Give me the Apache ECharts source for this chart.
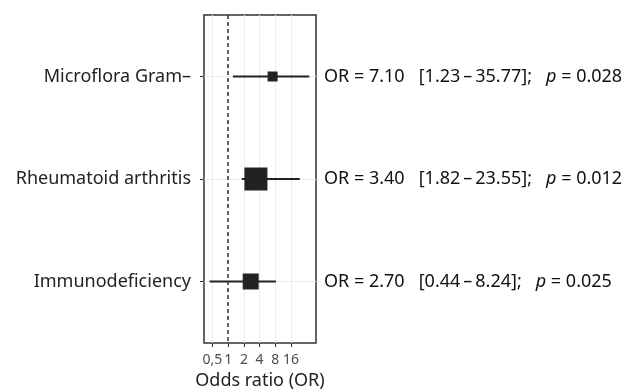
<!DOCTYPE html>
<html>
<head>
<meta charset="utf-8">
<script src="https://cdn.jsdelivr.net/npm/echarts@6/dist/echarts.min.js"></script>
<style>html,body{margin:0;padding:0;background:#fff;}#c{width:625px;height:390px;}</style>
</head>
<body>
<div id="c"></div>
<script>
const categories = ['Microflora Gram–', 'Rheumatoid arthritis', 'Immunodeficiency'];
const oddsRatio = [7.10, 3.40, 2.70];
const ciLow = [1.23, 1.82, 0.44];
const ciHigh = [35.77, 23.55, 8.24];
const pValue = ['0.028', '0.012', '0.025'];
const weight = [10, 23, 16];
const xTicks = [0.5, 1, 2, 4, 8, 16];
const xTickLabels = ['0,5', '1', '2', '4', '8', '16'];

const FONT = 'Noto Sans';
const chart = echarts.init(document.getElementById('c'), null, {renderer: 'canvas'});
const rows = categories.map((c, i) => [i + 1, oddsRatio[i], ciLow[i], ciHigh[i], weight[i]]);
const gridX = xTicks.filter(v => v !== 1);
const TS = '\u2009';

chart.setOption({
  animation: false,
  grid: {left: 204, right: 309, top: 15, bottom: 47, show: true, borderColor: '#333', borderWidth: 1.5,
    backgroundColor: 'transparent', containLabel: false, outerBoundsMode: 'none'},
  xAxis: {
    type: 'log', logBase: 2, min: 0.344, max: 48.2,
    axisLine: {show: false},
    splitLine: {show: false},
    axisTick: {show: true, length: 4, lineStyle: {color: '#333', width: 1}, customValues: xTicks},
    axisLabel: {customValues: xTicks, margin: 10, color: '#4d4d4d', fontSize: 14, fontFamily: FONT,
      formatter: v => { const i = xTicks.findIndex(t => Math.abs(t - v) < 1e-6); return i >= 0 ? xTickLabels[i] : ''; }},
    name: 'Odds ratio (OR)', nameLocation: 'middle', nameGap: 29,
    nameTextStyle: {color: '#222', fontSize: 18, fontFamily: FONT}
  },
  yAxis: [{
    type: 'value', min: 0.4, max: 3.6, inverse: true,
    axisLine: {show: false},
    splitLine: {show: false},
    axisTick: {show: true, length: 4, lineStyle: {color: '#333'}, customValues: [1, 2, 3]},
    axisLabel: {customValues: [1, 2, 3], margin: 13, color: '#222', fontSize: 18, fontFamily: FONT,
      formatter: v => categories[Math.round(v) - 1] || ''}
  }, {
    type: 'value', min: 0.4, max: 3.6, inverse: true, position: 'right',
    axisLine: {show: false}, splitLine: {show: false}, axisTick: {show: false},
    axisLabel: {customValues: [1, 2, 3], margin: 8, fontSize: 18, fontFamily: FONT, color: '#111',
      formatter: v => { const i = Math.round(v) - 1; if (i < 0 || i > 2) return '';
        return '{a|OR = ' + oddsRatio[i].toFixed(2) + '   [' + ciLow[i].toFixed(2) + TS + '–' + TS + ciHigh[i].toFixed(2) + '];   }{i|p}{a| = ' + pValue[i] + '}'; },
      rich: {a: {fontSize: 18, fontFamily: FONT, color: '#111'}, i: {fontSize: 18, fontFamily: FONT, fontStyle: 'italic', color: '#111'}}}
  }],
  series: [{
    type: 'scatter', data: [], silent: true, z: 1,
    markLine: {silent: true, symbol: 'none', label: {show: false}, animation: false,
      data: gridX.map(v => ({xAxis: v, lineStyle: {color: '#ebebeb', width: 1, type: 'solid'}}))
        .concat([1, 2, 3].map(v => ({yAxis: v, lineStyle: {color: '#ebebeb', width: 1, type: 'solid'}})))
        .concat([{xAxis: 1, lineStyle: {color: '#333', width: 1.5, type: [4, 3]}}])}
  }, {
    type: 'custom', z: 5, silent: true,
    encode: {x: [1, 2, 3], y: 0},
    data: rows,
    renderItem: (params, api) => {
      const yv = api.value(0);
      const p = api.coord([api.value(1), yv]);
      const l = api.coord([api.value(2), yv]);
      const h = api.coord([api.value(3), yv]);
      const s = api.value(4);
      return {type: 'group', children: [
        {type: 'line', shape: {x1: l[0], y1: p[1], x2: h[0], y2: p[1]}, style: {stroke: '#222', lineWidth: 2}},
        {type: 'rect', shape: {x: p[0] - s / 2, y: p[1] - s / 2, width: s, height: s}, style: {fill: '#222'}}
      ]};
    }
  }]
});
</script>
</body>
</html>
